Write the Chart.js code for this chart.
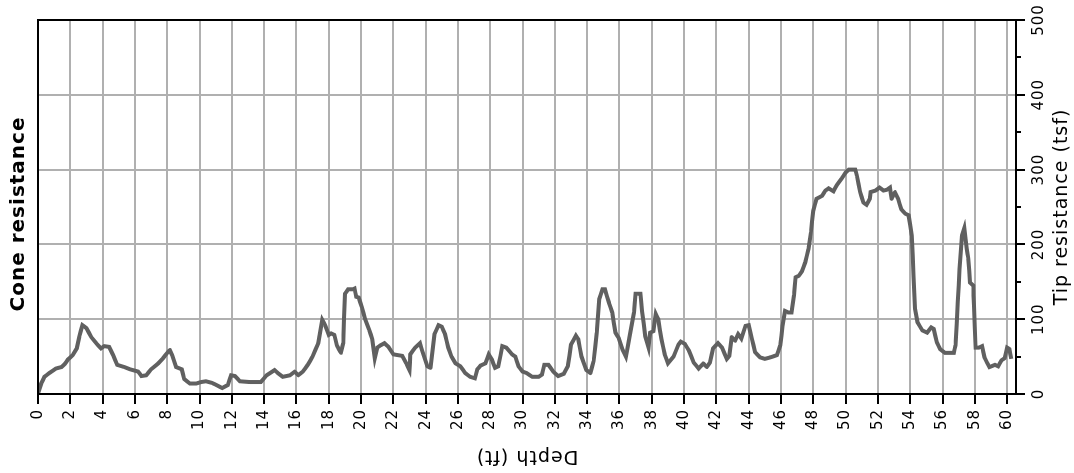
<!DOCTYPE html>
<html>
<head>
<meta charset="utf-8">
<script src="https://cdn.jsdelivr.net/npm/chart.js@4.4.1/dist/chart.umd.min.js"></script>
<style>
  html, body { margin: 0; padding: 0; background: #fff; overflow: hidden; }
  #wrap { position: relative; width: 1074px; height: 473px; }
  /* chart is drawn upright (depth down the side) and turned a quarter left */
  #cpt { position: absolute; left: 0; top: 0; transform-origin: 0 0; transform: translateY(473px) rotate(-90deg); }
</style>
</head>
<body>
<div id="wrap"><canvas id="cpt" width="473" height="1074"></canvas></div>
<script>
const depthFt = [
  0, 0.2, 0.4, 0.7, 1.1, 1.45, 1.65, 1.85, 2.15, 2.4, 2.55, 2.75, 3.0, 3.3, 3.6, 3.9,
  4.1, 4.4, 4.65, 4.9, 5.35, 5.7, 6.2, 6.4, 6.7, 7.0, 7.45, 7.75, 8.0, 8.15, 8.3, 8.55,
  8.9, 9.05, 9.4, 9.8, 10.1, 10.4, 10.75, 11.05, 11.4, 11.75, 11.95, 12.2, 12.5, 13.1,
  13.8, 14.15, 14.65, 14.85, 15.15, 15.6, 15.9, 16.1, 16.4, 16.7, 17.0, 17.35, 17.6,
  17.8, 18.0, 18.15, 18.35, 18.5, 18.75, 18.9, 19.0, 19.2, 19.5, 19.6, 19.7, 19.85,
  20.05, 20.25, 20.5, 20.7, 20.85, 21.0, 21.2, 21.45, 21.7, 22.0, 22.55, 22.8, 23.0,
  23.05, 23.35, 23.65, 23.8, 24.1, 24.3, 24.55, 24.8, 25.0, 25.2, 25.4, 25.6, 25.85,
  26.15, 26.45, 26.75, 27.05, 27.2, 27.4, 27.7, 27.9, 28.1, 28.3, 28.5, 28.75, 29.0,
  29.35, 29.55, 29.75, 30.0, 30.25, 30.6, 31.0, 31.2, 31.35, 31.6, 31.9, 32.2, 32.55,
  32.8, 33.0, 33.3, 33.45, 33.65, 33.95, 34.2, 34.4, 34.6, 34.75, 34.95, 35.1, 35.35,
  35.55, 35.75, 35.95, 36.2, 36.4, 36.65, 36.9, 37.0, 37.3, 37.4, 37.6, 37.8, 37.9,
  38.1, 38.25, 38.4, 38.6, 38.8, 39.0, 39.35, 39.65, 39.8, 40.05, 40.3, 40.6, 40.9,
  41.2, 41.4, 41.6, 41.8, 42.1, 42.35, 42.65, 42.8, 42.95, 43.15, 43.35, 43.55, 43.8,
  44.0, 44.2, 44.4, 44.7, 45.0, 45.35, 45.75, 45.95, 46.1, 46.25, 46.45, 46.65, 46.8,
  46.9, 47.1, 47.3, 47.5, 47.7, 47.85, 48.0, 48.2, 48.55, 48.75, 48.95, 49.25, 49.45,
  49.75, 50.0, 50.2, 50.6, 50.7, 50.9, 51.1, 51.3, 51.5, 51.55, 51.85, 52.1, 52.35,
  52.55, 52.75, 52.85, 53.05, 53.25, 53.45, 53.7, 53.9, 54.1, 54.2, 54.3, 54.45, 54.75,
  55.05, 55.3, 55.45, 55.65, 55.85, 56.15, 56.7, 56.8, 56.95, 57.05, 57.2, 57.35, 57.5,
  57.6, 57.7, 57.9, 57.95, 58.05, 58.25, 58.45, 58.6, 58.75, 58.9, 59.25, 59.45, 59.65,
  59.85, 60.0, 60.15, 60.25
];
const tipTsf = [
  0, 14, 23, 28, 34, 36, 40, 46, 52, 61, 76, 92, 88, 76, 68, 61,
  64, 63, 52, 39, 36, 33, 30, 24, 25, 33, 41, 48, 55, 59, 52, 36,
  33, 20, 14, 14, 16, 17, 15, 12, 8, 12, 25, 24, 17, 16,
  16, 25, 32, 28, 23, 25, 30, 25, 30, 39, 50, 68, 99,
  91, 79, 81, 79, 65, 55, 68, 134, 140, 140, 141, 130, 129,
  116, 100, 86, 73, 48, 62, 65, 68, 63, 53, 51, 41, 32,
  53, 62, 68, 57, 37, 35, 80, 92, 90, 80, 62, 50, 41,
  37, 28, 23, 21, 33, 38, 41, 53, 46, 35, 37, 64, 62,
  53, 50, 37, 30, 28, 23, 23, 26, 39, 39, 30, 24, 27,
  37, 66, 78, 73, 50, 32, 28, 44, 82, 127, 140, 140, 122,
  109, 82, 75, 59, 50, 80, 109, 134, 134, 111, 77, 62, 82,
  84, 107, 100, 73, 53, 41, 50, 66, 70, 67, 58, 42, 34,
  41, 36, 42, 61, 68, 62, 47, 51, 76, 71, 80, 74, 91,
  92, 74, 56, 49, 47, 49, 52, 65, 91, 111, 109, 109, 132,
  156, 158, 164, 176, 194, 216, 245, 261, 265, 272, 275, 271, 279,
  288, 296, 300, 300, 292, 270, 256, 253, 261, 270, 272, 276, 272,
  273, 276, 261, 270, 261, 247, 241, 239, 212, 158, 114, 96, 85,
  82, 89, 87, 69, 60, 55, 55, 65, 123, 167, 212, 222, 194,
  181, 149, 145, 118, 62, 62, 64, 49, 42, 36, 39, 37, 45,
  48, 62, 60, 47
];
const depthTicks = { min: 0, max: 60.55, step: 2 };
const tipTicks = { min: 0, max: 500, step: 100, minor: [50, 150, 250, 350, 450] };

const FONT = '"DejaVu Sans", Verdana, sans-serif';

// the reference text is set loosely, so space the letters a little
const spacingPlugin = {
  id: 'spacing',
  beforeDraw(chart) {
    if ('letterSpacing' in chart.ctx) chart.ctx.letterSpacing = '1px';
  }
};

// box round the plot, minor ticks on the resistance axis, and the heading
const framePlugin = {
  id: 'frame',
  afterDraw(chart) {
    const { ctx, chartArea: a, scales } = chart;
    ctx.save();
    ctx.strokeStyle = '#000';
    ctx.lineWidth = 2;
    ctx.strokeRect(a.left, a.top, a.right - a.left, a.bottom - a.top);
    ctx.beginPath();
    tipTicks.minor.forEach(v => {
      const x = Math.round(scales.x.getPixelForValue(v));
      ctx.moveTo(x, a.bottom);
      ctx.lineTo(x, a.bottom + 5);
    });
    ctx.stroke();
    ctx.fillStyle = '#000';
    ctx.font = 'bold 20px ' + FONT;
    ctx.textAlign = 'center';
    ctx.textBaseline = 'middle';
    ctx.fillText('Cone resistance', (a.left + a.right) / 2 - 7, 19);
    ctx.restore();
  }
};

new Chart(document.getElementById('cpt'), {
  type: 'line',
  data: {
    datasets: [{
      data: depthFt.map((d, i) => ({ x: tipTsf[i], y: d })),
      borderColor: '#606060',
      borderWidth: 4,
      pointRadius: 0,
      tension: 0.0001,
      fill: false
    }]
  },
  options: {
    indexAxis: 'y',
    responsive: false,
    animation: false,
    devicePixelRatio: 1,
    layout: { padding: { top: 38, right: 20, left: 0, bottom: 0 } },
    plugins: { legend: { display: false }, tooltip: { enabled: false }, title: { display: false } },
    scales: {
      x: {
        type: 'linear',
        position: 'bottom',
        min: tipTicks.min,
        max: tipTicks.max,
        ticks: { stepSize: tipTicks.step, color: '#000', padding: 5, font: { family: FONT, size: 15 } },
        grid: { color: '#b0b0b0', lineWidth: 2, tickLength: 9, tickColor: '#000', tickWidth: 2 },
        border: { color: '#000', width: 2 },
        title: { display: true, text: 'Tip resistance (tsf)', color: '#000', padding: { top: 0, bottom: 1 }, font: { family: FONT, size: 19 } },
        afterFit(scale) { scale.height = 58; }
      },
      y: {
        type: 'linear',
        position: 'left',
        reverse: true,
        min: depthTicks.min,
        max: depthTicks.max,
        ticks: { stepSize: depthTicks.step, includeBounds: false, color: '#000', padding: 5, font: { family: FONT, size: 15 } },
        grid: { color: '#b0b0b0', lineWidth: 2, tickLength: 10, tickColor: '#000', tickWidth: 2 },
        border: { color: '#000', width: 2 },
        title: { display: true, text: 'Depth (ft)', color: '#000', padding: { top: 6, bottom: 0 }, font: { family: FONT, size: 19 } },
        afterFit(scale) { scale.width = 79; }
      }
    }
  },
  plugins: [spacingPlugin, framePlugin]
});
</script>
</body>
</html>
